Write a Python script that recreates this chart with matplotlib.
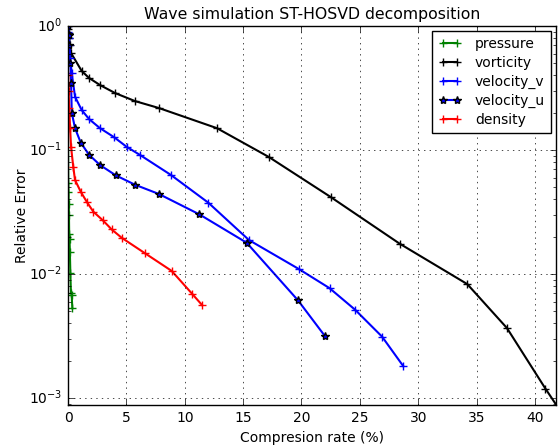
import matplotlib
matplotlib.use("Agg")
import matplotlib.pyplot as plt

plt.style.use('classic')

pressure_x = [0.0, 0.02, 0.04, 0.06, 0.08, 0.1, 0.13, 0.16, 0.2, 0.25, 0.31, 0.37]
pressure_y = [0.15, 0.054, 0.046, 0.037, 0.030, 0.021, 0.019, 0.015, 0.0102, 0.0071, 0.0068, 0.0053]

vorticity_x = [0.0, 0.02, 0.05, 0.1, 0.15, 0.26, 1.17, 1.80, 2.74, 4.03, 5.74, 7.79, 12.76,
               17.2, 22.5, 28.4, 34.2, 37.6, 40.9, 41.9]
vorticity_y = [1.0, 0.95, 0.88, 0.8, 0.7, 0.605, 0.434, 0.381, 0.334, 0.288, 0.248, 0.218, 0.150,
               0.0879, 0.0418, 0.0176, 0.0083, 0.00367, 0.00119, 0.00086]

velocity_v_x = [0.0, 0.03, 0.06, 0.1, 0.18, 0.32, 0.60, 1.17, 1.82, 2.74, 3.94, 5.03, 6.17, 8.82,
                12.02, 15.5, 19.76, 22.4, 24.6, 26.9, 28.7]
velocity_v_y = [1.0, 0.9, 0.8, 0.7, 0.55, 0.416, 0.269, 0.210, 0.177, 0.150, 0.127, 0.106, 0.0912,
                0.0629, 0.0376, 0.0188, 0.0110, 0.0077, 0.00515, 0.00313, 0.00182]

velocity_u_x = [0.0, 0.05, 0.1, 0.2, 0.26, 0.32, 0.60, 1.09, 1.80, 2.74, 4.09, 5.74, 7.79,
                11.25, 15.3, 19.7, 22.0]
velocity_u_y = [1.0, 0.85, 0.7, 0.5, 0.347, 0.2, 0.150, 0.1146, 0.0916, 0.0757, 0.0625, 0.0525,
                0.0442, 0.0303, 0.0179, 0.00614, 0.00317]

density_x = [0.0, 0.05, 0.1, 0.18, 0.26, 0.45, 0.60, 1.09, 1.60, 2.17, 2.97, 3.74, 4.60, 6.60,
             8.88, 10.65, 11.5]
density_y = [0.4, 0.3, 0.22, 0.15, 0.106, 0.073, 0.0573, 0.0461, 0.0383, 0.0318, 0.0272, 0.0229,
             0.0196, 0.0147, 0.0106, 0.0069, 0.0056]

fig = plt.figure(figsize=(5.58, 4.45), dpi=100, facecolor='white')
ax = fig.add_axes([0.1219, 0.0899, 0.9964 - 0.1219, 0.9416 - 0.0899])
ax.set_facecolor('white')

kw = dict(lw=1.5, ms=6, mew=1)
ax.plot(pressure_x, pressure_y, color='green', marker='+', label='pressure', **kw)
ax.plot(vorticity_x, vorticity_y, color='black', marker='+', label='vorticity', **kw)
ax.plot(velocity_v_x, velocity_v_y, color='blue', marker='+', label='velocity_v', **kw)
ax.plot(velocity_u_x, velocity_u_y, color='blue', marker='*', mfc='blue', mec='black',
        label='velocity_u', **kw)
ax.plot(density_x, density_y, color='red', marker='+', label='density', **kw)

ax.set_yscale('log')
ax.set_xlim(0, 41.8)
ax.set_ylim(0.00088, 1)
ax.grid(True, which='major', color='black', linestyle=':')
ax.set_xticks([0, 5, 10, 15, 20, 25, 30, 35, 40])
ax.tick_params(labelsize=10)
ax.set_xlabel('Compresion rate (%)', fontsize=10)
ax.set_ylabel('Relative Error', fontsize=10, labelpad=0)
ax.set_title('Wave simulation ST-HOSVD decomposition', fontsize=11.3)
ax.legend(loc='upper right', fontsize=10, numpoints=2, borderaxespad=0.35,
          handlelength=1.6, handletextpad=1.0, labelspacing=0.35, borderpad=0.45)

fig.savefig('out.png', dpi=100, facecolor='white')
